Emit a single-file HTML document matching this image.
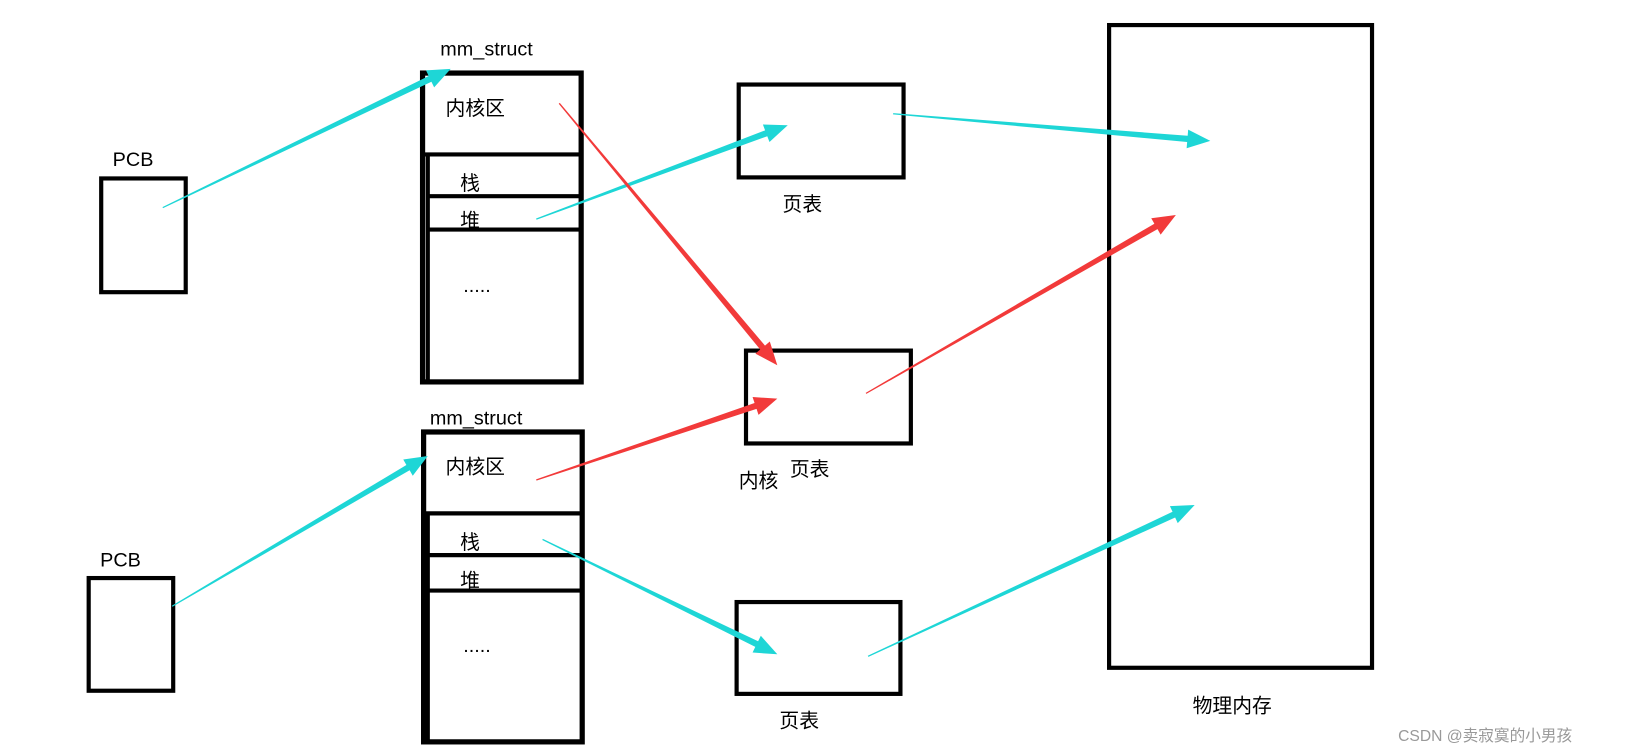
<!DOCTYPE html>
<html><head><meta charset="utf-8"><style>
html,body{margin:0;padding:0;background:#fff;width:1636px;height:754px;overflow:hidden}
svg text{font-family:"Liberation Sans","Noto Sans CJK SC",sans-serif;fill:#000}
</style></head><body>
<svg id="s" width="1636" height="754" viewBox="0 0 1568 722.6" xmlns="http://www.w3.org/2000/svg">
<g fill="none" stroke="#000" stroke-width="4">
<rect x="97" y="171" width="81" height="109"/>
<rect x="85" y="554" width="81" height="108"/>
<rect x="405" y="70" width="152" height="296" stroke-width="5"/>
<line x1="410" y1="148" x2="410" y2="366" stroke-width="4"/>
<line x1="405" y1="148" x2="557" y2="148"/>
<line x1="410" y1="188" x2="557" y2="188"/>
<line x1="410" y1="220" x2="557" y2="220"/>
<rect x="406" y="414" width="152" height="297" stroke-width="5"/>
<line x1="410" y1="492" x2="410" y2="711" stroke-width="4"/>
<line x1="406" y1="492" x2="558" y2="492"/>
<line x1="410" y1="532" x2="558" y2="532"/>
<line x1="410" y1="566" x2="558" y2="566"/>
<rect x="708" y="81" width="158" height="89"/>
<rect x="715" y="336" width="158" height="89"/>
<rect x="706" y="577" width="157" height="88"/>
<rect x="1063" y="24" width="252" height="616"/>
</g>
<g font-size="19">
<text x="108" y="159">PCB</text>
<text x="96" y="543">PCB</text>
<text x="422" y="53">mm_struct</text>
<text x="412" y="407">mm_struct</text>
<text x="427" y="110">内核区</text>
<text x="441" y="182">栈</text>
<text x="441" y="218">堆</text>
<text x="444" y="280">.....</text>
<text x="427" y="454">内核区</text>
<text x="441" y="526">栈</text>
<text x="441" y="563">堆</text>
<text x="444" y="625">.....</text>
<text x="750" y="202">页表</text>
<text x="757" y="456">页表</text>
<text x="708" y="467">内核</text>
<text x="747" y="697">页表</text>
<text x="1143" y="683">物理内存</text>
</g>
<text x="1340" y="710" font-size="15" style="fill:#999">CSDN @卖寂寞的小男孩</text>
<g id="arrows"></g>
</svg>
<script>
var C="#1ed6d6",R="#f23a3a";
var A=[[156,199,432,66,C],[514,210,755,120,C],[856,109,1160,135,C],[536,99,745,350,R],[830,377,1127,206,R],[514,460,745,382,R],[165,581,410,437,C],[520,517,745,627,C],[832,629,1145,484,C]];
var g=document.getElementById("arrows"),h="";
A.forEach(function(a){var x1=a[0],y1=a[1],x2=a[2],y2=a[3];var dx=x2-x1,dy=y2-y1,L=Math.hypot(dx,dy),ux=dx/L,uy=dy/L,nx=-uy,ny=ux;
var hl=22,hw=9,bx=x2-ux*hl,by=y2-uy*hl,w0=0.6,w1=3;
var p=[[x1+nx*w0,y1+ny*w0],[bx+nx*w1,by+ny*w1],[bx+nx*hw,by+ny*hw],[x2,y2],[bx-nx*hw,by-ny*hw],[bx-nx*w1,by-ny*w1],[x1-nx*w0,y1-ny*w0]];
h+='<polygon fill="'+a[4]+'" points="'+p.map(function(q){return q[0].toFixed(1)+","+q[1].toFixed(1)}).join(" ")+'"/>';});
g.innerHTML=h;
</script>
</body></html>
